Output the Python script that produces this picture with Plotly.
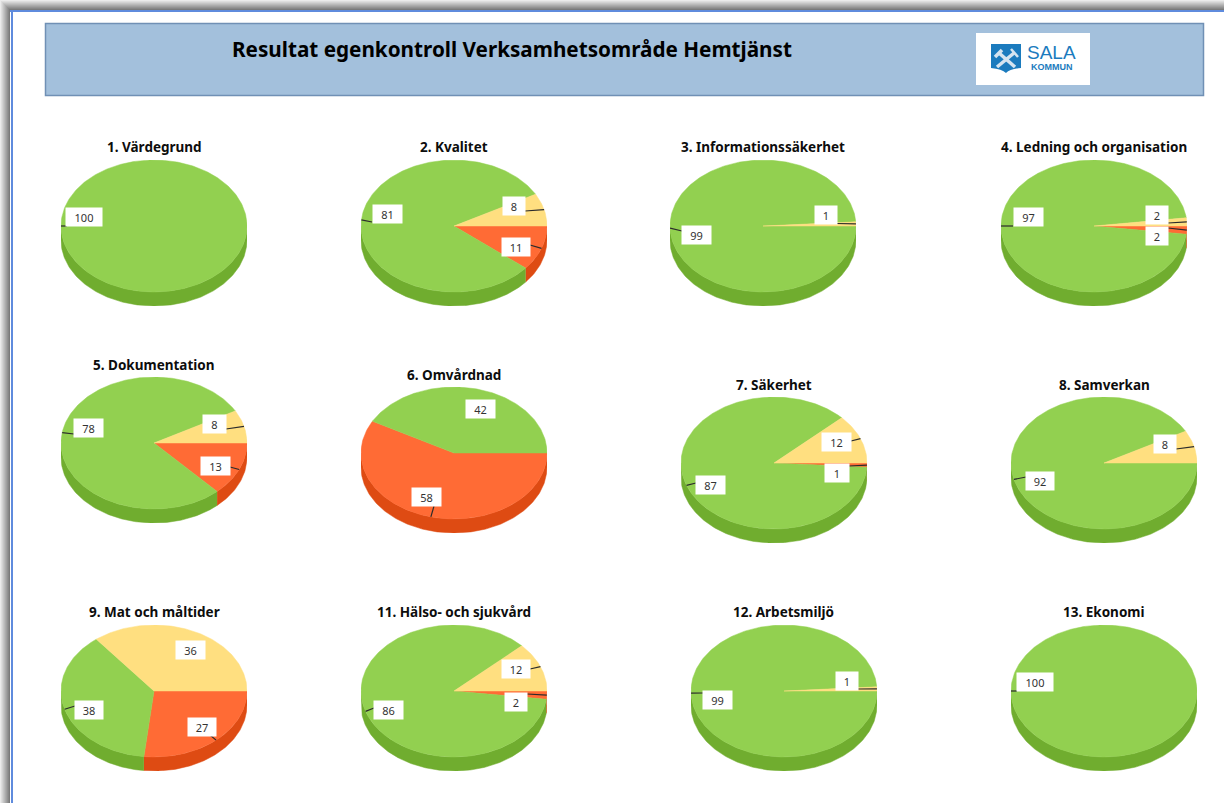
import numpy as np
import plotly.graph_objects as go

W, H = 1224, 803

# ---- data -------------------------------------------------------------
MAIN_TITLE = "Resultat egenkontroll Verksamhetsområde Hemtjänst"
TITLES = ["1. Värdegrund", "2. Kvalitet", "3. Informationssäkerhet", "4. Ledning och organisation",
          "5. Dokumentation", "6. Omvårdnad", "7. Säkerhet", "8. Samverkan",
          "9. Mat och måltider", "11. Hälso- och sjukvård", "12. Arbetsmiljö", "13. Ekonomi"]
# Slices run clockwise from three o'clock: red, green, yellow
RED = [0, 11, 0, 2, 13, 58, 1, 0, 27, 2, 0, 0]
GREEN = [100, 81, 99, 97, 78, 42, 87, 92, 38, 86, 99, 100]
YELLOW = [0, 8, 1, 2, 8, 0, 12, 8, 36, 12, 1, 0]

# ---- layout (pixels) ---------------------------------------------------
CENTERS = [(154, 226), (454, 226), (763, 226), (1094, 226),
           (154, 443), (454, 453), (774, 463), (1104, 463),
           (154, 691), (454, 691), (784, 691), (1104, 691)]
RX, RY, DEPTH = 93, 66, 14
TITLE_Y = [147, 147, 147, 147, 365, 375, 385, 385, 612, 612, 612, 612]
# value-label placement per pie and series: (centre x, centre y, box width, leader start x, leader start y)
LABEL_POS = [
    {"g": (84, 217, 36, 67, 226)},
    {"g": (387, 214, 29, 372, 222), "y": (514, 206, 22, 525, 211), "r": (516, 247, 28, 530, 245)},
    {"g": (696, 235, 29, 682, 231), "y": (826, 215, 22, 837, 223.5)},
    {"g": (1028, 217, 29, 1013, 226), "y": (1157, 215, 22, 1168, 223), "r": (1157, 236, 22, 1168, 228)},
    {"g": (88.5, 428, 29, 74, 434), "y": (214.5, 424, 23, 226, 429), "r": (215.5, 466, 29, 230, 467)},
    {"g": (480.5, 409, 29, None, None), "r": (426.5, 497, 29, 434, 506)},
    {"g": (710.5, 484.5, 29, 696, 483), "y": (836.5, 441.5, 29, 851, 441), "r": (837, 473, 24, 849, 466)},
    {"g": (1040, 481, 28, 1026, 477), "y": (1165, 444, 22, 1176, 449)},
    {"g": (89, 710, 28, 75, 706), "y": (190.5, 649.5, 29, None, None), "r": (202, 726.5, 28, 210, 735)},
    {"g": (388.5, 709.5, 29, 374, 708), "y": (516, 669, 28, 530, 669), "r": (516, 702, 22, 527, 694)},
    {"g": (717, 700, 29, 703, 693), "y": (847, 681, 22, 858, 689)},
    {"g": (1035, 682, 36, 1017, 691)},
]
TOP = {"r": "#FF6B35", "g": "#92D050", "y": "#FFDF80"}
SIDE = {"r": "#DE4B13", "g": "#70AD2F", "y": "#E0B040"}
FONT = "Noto Sans"

fig = go.Figure()
D = DEPTH / RY
shapes, annots = [], []


def px(x):
    return x / W


def py(y):
    return 1 - y / H


def rect(x0, y0, x1, y1, fill, line=None, lw=0):
    shapes.append(dict(type="rect", xref="paper", yref="paper", layer="below",
                       x0=px(x0), x1=px(x1), y0=py(y0), y1=py(y1), fillcolor=fill,
                       line=dict(color=line or fill, width=lw)))


# window shadow and border
for i in range(10):
    g = int(235 - 12.5 * i)
    c = f"rgb({g},{g},{g})"
    rect(i, i, W, i + 1, c)
    rect(i, i, i + 1, H, c)
rect(10, 10, W, 12, "#5F8BDD")
rect(11, 10, 13, H, "#5F8BDD")

# header
rect(45.5, 23.5, 1203.5, 95.5, "#A3C0DC", "#7090B5", 1.5)
rect(976, 33, 1090, 85, "#FFFFFF")
shapes.append(dict(type="path", xref="paper", yref="paper", fillcolor="#1B7BBE", line=dict(width=0),
                   path=f"M {px(991)} {py(44)} L {px(1021)} {py(44)} L {px(1021)} {py(68)} "
                        f"Q {px(1010)} {py(69)} {px(1006)} {py(73)} Q {px(1002)} {py(69)} {px(991)} {py(68)} Z"))
for (a, b, c, d, w) in [(997, 67, 1014, 53, 3.5), (1015, 67, 999, 53, 3.5), (995, 57, 1002, 50, 3.5),
                        (1011, 49, 1018, 57, 2.5)]:
    shapes.append(dict(type="line", xref="paper", yref="paper", x0=px(a), y0=py(b), x1=px(c), y1=py(d),
                       line=dict(color="#D5E4F0", width=w)))


def note(x, y, text, size, color="#000", weight="normal", family=FONT, **kw):
    annots.append(dict(xref="paper", yref="paper", x=px(x), y=py(y), text=text, showarrow=False,
                       xanchor=kw.pop("xanchor", "center"), yanchor="middle",
                       font=dict(size=size, color=color, family=family, weight=weight), **kw))


note(512, 49, MAIN_TITLE, 20.7, weight="bold")
note(1051.5, 52, "SALA", 19, color="#1B7BBE", family="Liberation Sans")
note(1051.5, 66.5, "KOMMUN", 9, color="#1B7BBE", family="Liberation Sans", weight="bold")


def arc(a, b):
    n = max(int(abs(b - a)) + 2, 3)
    return np.radians(np.linspace(a, b, n))


for i, (cx, cy) in enumerate(CENTERS):
    sfx = "" if i == 0 else str(i + 1)
    fig.layout[f"xaxis{sfx}"] = dict(domain=[px(cx - RX), px(cx + RX)], range=[-1, 1], visible=False,
                                     fixedrange=True, anchor=f"y{sfx}")
    fig.layout[f"yaxis{sfx}"] = dict(domain=[py(cy + RY + DEPTH), py(cy - RY)], range=[-1 - D, 1], visible=False,
                                     fixedrange=True, anchor=f"x{sfx}")
    vals = {"r": RED[i], "g": GREEN[i], "y": YELLOW[i]}
    total = sum(vals.values())
    start = 0.0
    spans = []
    for k in "rgy":
        if vals[k] > 0:
            end = start + vals[k] / total * 360
            spans.append((k, start, end))
            start = end
    kw = dict(xaxis=f"x{sfx}", yaxis=f"y{sfx}", mode="lines", fill="toself", showlegend=False,
              hoverinfo="skip", cliponaxis=False)
    # side walls first
    for k, a, b in spans:
        a2, b2 = max(a, 0), min(b, 180)
        if b2 > a2:
            t = arc(a2, b2)
            xs = np.r_[np.cos(t), np.cos(t[::-1])]
            ys = np.r_[-np.sin(t), -np.sin(t[::-1]) - D]
            fig.add_trace(go.Scatter(x=xs, y=ys, fillcolor=SIDE[k], line=dict(color=SIDE[k], width=0.5), **kw))
    # top faces
    for k, a, b in spans:
        t = arc(a, b)
        xs = np.r_[0, np.cos(t), 0]
        ys = np.r_[0, -np.sin(t), 0]
        fig.add_trace(go.Scatter(x=xs, y=ys, fillcolor=TOP[k], line=dict(color=TOP[k], width=0.5), **kw))
    # leaders and value labels
    for k, a, b in spans:
        lx, ly, bw, sx, sy = LABEL_POS[i][k]
        if sx is not None:
            mid = np.radians((a + b) / 2)
            fig.add_trace(go.Scatter(x=[(sx - cx) / RX, np.cos(mid)], y=[-(sy - cy) / RY, -np.sin(mid)],
                                     xaxis=f"x{sfx}", yaxis=f"y{sfx}", mode="lines", showlegend=False,
                                     hoverinfo="skip", cliponaxis=False,
                                     line=dict(color="#2b2b2b", width=1.2)))
        note(lx, ly, str(vals[k]), 11, color="#333333", bgcolor="#FFFFFF", width=bw, height=18, borderpad=0,
             align="center", valign="middle")
    note(cx, TITLE_Y[i], TITLES[i], 13.5, weight="bold", color="#0d0d0d")

fig.update_layout(width=W, height=H, margin=dict(l=0, r=0, t=0, b=0), autosize=False,
                  paper_bgcolor="#FFFFFF", plot_bgcolor="rgba(0,0,0,0)", shapes=shapes, annotations=annots)
fig.write_html("out.html", config={"displayModeBar": False},
               post_script="document.body.style.margin='0';document.body.style.overflow='hidden';")
